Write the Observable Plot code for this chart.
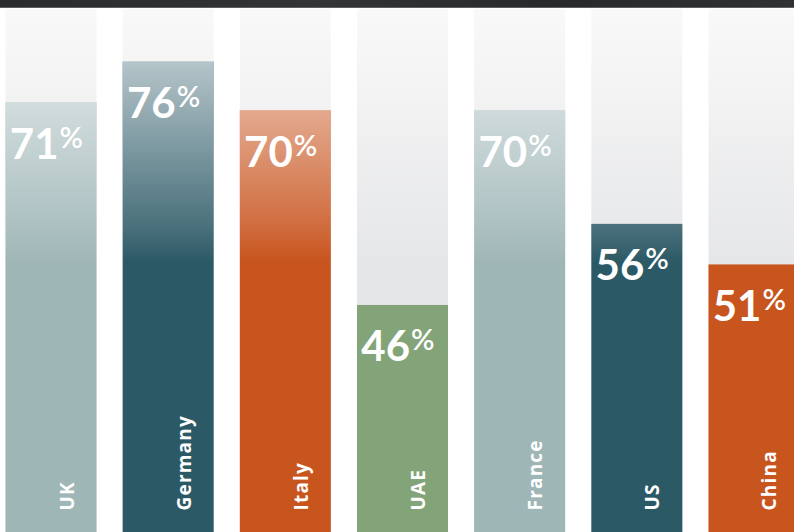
<!DOCTYPE html>
<html>
<head>
<meta charset="utf-8">
<script src="https://cdn.jsdelivr.net/npm/d3@7"></script>
<script src="https://cdn.jsdelivr.net/npm/@observablehq/plot@0.6"></script>
<style>
  html, body { margin: 0; padding: 0; background: #ffffff; width: 794px; height: 532px; overflow: hidden; }
  #band { height: 7px; background: linear-gradient(90deg, #2a2b2d, #333436 40%, #28292b 70%, #303133); border-bottom: 1px solid #5c5d5f; }
  #chart svg { display: block; }
  #chart svg g[font-size="19"] { letter-spacing: 1.2px; }
</style>
</head>
<body>
<div id="band"></div>
<div id="chart"></div>
<script>
const countries = ["UK", "Germany", "Italy", "UAE", "France", "US", "China"];
const values = [71, 76, 70, 46, 70, 56, 51];
const colors = ["#9fb6b7", "#2c5966", "#c8541e", "#82a478", "#9fb6b7", "#2c5966", "#c8541e"];
const yDomain = [18, 82.5];

const data = countries.map((c, i) => ({country: c, value: values[i], color: colors[i]}));

const numFont = "Lato, 'Open Sans', sans-serif";

const plot = Plot.plot({
  width: 794,
  height: 524,
  marginTop: 1,
  marginBottom: 0,
  marginLeft: 5,
  marginRight: 0,
  style: {background: "transparent", overflow: "hidden"},
  x: {domain: countries, range: [5.5, 799.5], paddingInner: 0.2233, paddingOuter: 0, round: false, axis: null},
  y: {domain: yDomain, axis: null},
  color: {type: "identity"},
  marks: [
    Plot.barY(countries, {x: d => d, y1: yDomain[0], y2: yDomain[1], fill: "url(#bg)"}),
    Plot.barY(data, {x: "country", y1: yDomain[0], y2: "value", fill: "color"}),
    Plot.barY(data, {x: "country", y1: yDomain[0], y2: "value", fill: "url(#fade)"}),
    Plot.text(data, {
      x: "country", y: "value", text: d => String(d.value),
      textAnchor: "end", lineAnchor: "bottom", dx: 7, dy: 56,
      fill: "white", fontSize: 42, fontWeight: 700, fontFamily: numFont
    }),
    Plot.text(data, {
      x: "country", y: "value", text: () => "%",
      textAnchor: "start", lineAnchor: "bottom", dx: 8, dy: 45,
      fill: "white", fontSize: 29, fontWeight: 600, fontFamily: numFont
    }),
    Plot.text(data, {
      x: "country", text: "country", frameAnchor: "bottom", rotate: -90,
      textAnchor: "start", lineAnchor: "bottom", dx: 22, dy: -22,
      fill: "white", fontSize: 19, fontWeight: 700, fontFamily: "'Open Sans', sans-serif"
    })
  ]
});

const svg = d3.select(plot);
const defs = svg.insert("defs", ":first-child");
const bg = defs.append("linearGradient").attr("id", "bg")
  .attr("gradientUnits", "userSpaceOnUse").attr("x1", 0).attr("x2", 0).attr("y1", 1).attr("y2", 260);
bg.append("stop").attr("offset", 0).attr("stop-color", "#f9f9f9");
bg.append("stop").attr("offset", 1).attr("stop-color", "#e5e6e8");

const fade = defs.append("linearGradient").attr("id", "fade")
  .attr("gradientUnits", "userSpaceOnUse").attr("x1", 0).attr("x2", 0).attr("y1", 0).attr("y2", 254);
fade.append("stop").attr("offset", 0).attr("stop-color", "#ffffff").attr("stop-opacity", 0.82);
fade.append("stop").attr("offset", 63 / 254).attr("stop-color", "#ffffff").attr("stop-opacity", 0.62);
fade.append("stop").attr("offset", 219 / 254).attr("stop-color", "#ffffff").attr("stop-opacity", 0.14);
fade.append("stop").attr("offset", 1).attr("stop-color", "#ffffff").attr("stop-opacity", 0);

document.getElementById("chart").append(plot);
</script>
</body>
</html>
